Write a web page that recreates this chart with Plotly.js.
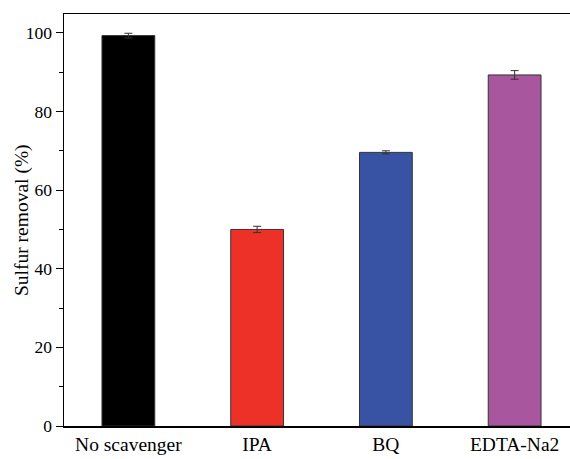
<!DOCTYPE html>
<html><head><meta charset="utf-8">
<script src="https://cdn.plot.ly/plotly-3.0.1.min.js"></script>
<style>html,body{margin:0;padding:0;background:#fff;}</style>
</head><body><div id="chart" style="width:570px;height:459px;"></div>
<script>
const categories = ["No scavenger", "IPA", "BQ", "EDTA-Na2"];
const removal = [99.3, 50.0, 69.6, 89.3];
const errors = [0.6, 0.8, 0.4, 1.1];
const colors = ["#000000", "#EE3128", "#3953A4", "#A8579F"];
const yTicks = [0, 20, 40, 60, 80, 100];
const yTitle = "Sulfur removal (%)";

const trace = {
  type: "bar", x: categories, y: removal,
  width: 0.41,
  marker: {color: colors, line: {color: "#333333", width: 1}},
  error_y: {type: "data", array: errors, visible: true, color: "#333333", thickness: 1, width: 4}
};
const layout = {
  width: 570, height: 459,
  margin: {l: 64, r: 0, t: 14, b: 33},
  paper_bgcolor: "#fff", plot_bgcolor: "#fff",
  showlegend: false,
  font: {family: "Liberation Serif, Times New Roman, serif", color: "#000"},
  xaxis: {
    range: [-0.5, 3.43], showline: true, mirror: true, linecolor: "#000", linewidth: 1.5,
    ticks: "", showgrid: false, zeroline: false, tickfont: {size: 19.5}, ticklabelstandoff: 0
  },
  yaxis: {
    range: [0, 104.8], showline: true, linecolor: "#000", linewidth: 1.5,
    ticks: "outside", ticklen: 7, tickcolor: "#000", tickwidth: 1,
    tickvals: yTicks, ticktext: yTicks.map(String),
    minor: {dtick: 10, ticks: "outside", ticklen: 4, tickcolor: "#000", tickwidth: 1, showgrid: false},
    showgrid: false, zeroline: false, tickfont: {size: 17.5}
  },
  annotations: [{
    text: yTitle, xref: "paper", yref: "paper", x: -0.083, y: 0.5,
    xanchor: "center", yanchor: "middle", textangle: -90, showarrow: false,
    font: {size: 19.5, family: "Liberation Serif, Times New Roman, serif", color: "#000"}
  }]
};
Plotly.newPlot("chart", [trace], layout, {displayModeBar: false, staticPlot: true});
</script></body></html>
